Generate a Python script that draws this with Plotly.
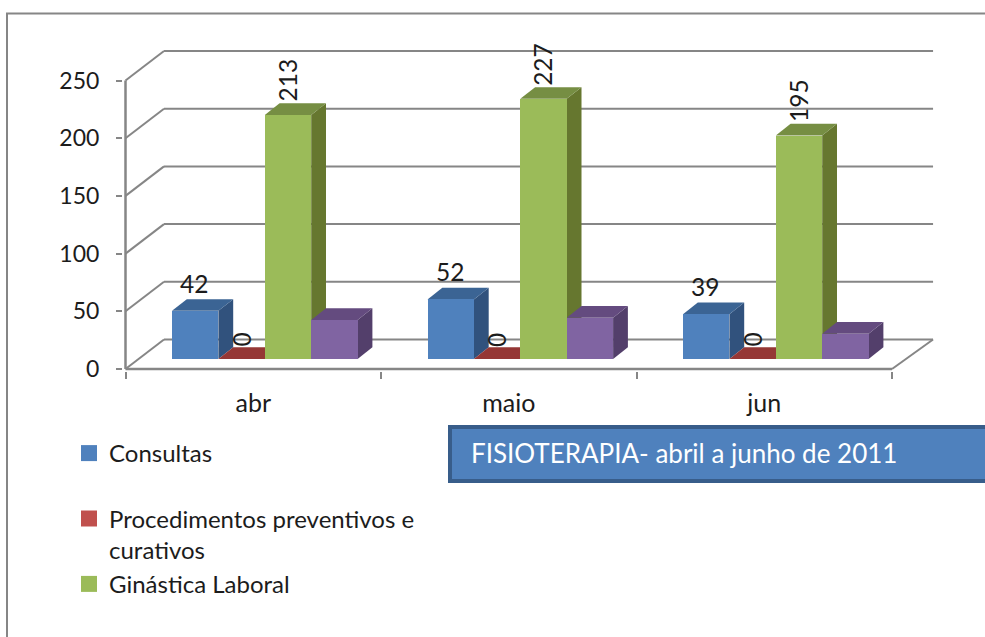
import plotly.graph_objects as go

categories = ["abr", "maio", "jun"]
series_names = ["Consultas", "Procedimentos preventivos e<br>curativos", "Ginástica Laboral", "Outros"]
consultas = [42, 52, 39]
procedimentos = [0, 0, 0]
ginastica = [213, 227, 195]
outros = [34, 36, 22]
y_ticks = [0, 50, 100, 150, 200, 250]

front = ["#4F81BD", "#C0504D", "#9BBB59", "#8064A2"]
side = ["#31527D", "#7F3230", "#66772F", "#533F6B"]
top = ["#3B6494", "#953735", "#768E43", "#644B7F"]
GRID = "#868686"
FONT = "Lato, Carlito, sans-serif"
TXT = "#1c1c1c"

SX, SY = 255.5, 1.154          # px per unit of the front axis, used only to set the axis ranges
BAR_SY = 1.146                 # the bars stand further back, so their scale is a little smaller
FLOOR_PY = 359                 # window row of the bars' foot
WALL_DX, WALL_DY = 38.5 / SX, 29.5 / SY
BAR_DX, BAR_DY = 14.8 / SX, 11.7 / BAR_SY
BAR_W = 46.4 / SX
BAR_START = 46.5 / SX
PL, PR, PT, PB = 123, 936, 49, 371   # plot-area edges in the window
BACK_END = 3.01


def paper_x(px):
    return (px - PL) / (PR - PL)


def paper_y(py):
    return 1 - (py - PT) / (PB - PT)


values = [consultas, procedimentos, ginastica, outros]


def poly(xs, ys):
    d = "M" + " L".join(f"{a:.5f},{b:.4f}" for a, b in zip(xs, ys)) + " Z"
    return d


shapes = []


def line(x0, y0, x1, y1, w=2):
    shapes.append(dict(type="line", xref="x", yref="y", x0=x0, y0=y0, x1=x1, y1=y1,
                       line=dict(color=GRID, width=w), layer="below"))


# wall and floor
for v in y_ticks:
    line(0, v, WALL_DX, v + WALL_DY)
    line(WALL_DX, v + WALL_DY, BACK_END + WALL_DX, v + WALL_DY)
line(0, 0, 0, 250, 2.5)
line(0, 0, 3, 0, 2.5)
line(3, 0, BACK_END + WALL_DX, WALL_DY)

# depth faces of the bars
for c in range(len(categories)):
    for s, vals in enumerate(values):
        l = c + BAR_START + s * BAR_W
        r = l + BAR_W
        b = 0
        t = vals[c]
        shapes.append(dict(type="path", xref="x", yref="y2", layer="below", line=dict(width=0),
                           fillcolor=side[s],
                           path=poly([r, r + BAR_DX, r + BAR_DX, r], [b, b + BAR_DY, t + BAR_DY, t])))
        shapes.append(dict(type="path", xref="x", yref="y2", layer="below", line=dict(width=0),
                           fillcolor=top[s],
                           path=poly([l, r, r + BAR_DX, l + BAR_DX], [t, t, t + BAR_DY, t + BAR_DY])))

# frame and title box
shapes.append(dict(type="rect", xref="paper", yref="paper", x0=paper_x(7), x1=paper_x(1000),
                   y0=paper_y(650), y1=paper_y(13.5), line=dict(color="#868686", width=2), layer="below"))
shapes.append(dict(type="rect", xref="paper", yref="paper", x0=paper_x(450), x1=paper_x(1000),
                   y0=paper_y(481), y1=paper_y(427),
                   fillcolor="#4F81BD", line=dict(color="#385D8A", width=4), layer="above"))

fig = go.Figure()
legend_names = ["Consultas<br> ", series_names[1], series_names[2]]
for s, nm in enumerate(legend_names):
    fig.add_trace(go.Scatter(x=[None], y=[None], mode="markers", name=nm,
                             marker=dict(symbol="square", size=16, color=front[s], line=dict(width=0))))
for s, vals in enumerate(values):
    xs = [c + BAR_START + (s + 0.5) * BAR_W for c in range(len(categories))]
    fig.add_trace(go.Bar(x=xs, y=vals, base=0, width=BAR_W, yaxis="y2",
                         marker=dict(color=front[s], line=dict(width=0)),
                         showlegend=False, name=series_names[s].replace("<br>", " ")))

annotations = []
for s, angle, pad in [(0, 0, 11), (1, -90, 10), (2, -90, 11)]:
    for c in range(len(categories)):
        annotations.append(dict(x=c + BAR_START + (s + 0.5) * BAR_W, y=values[s][c], xref="x", yref="y2",
                                text=str(values[s][c]), showarrow=False, textangle=angle,
                                yanchor="bottom", yshift=pad, xshift=-1,
                                font=dict(family=FONT, size=24.5, color=TXT)))
annotations.append(dict(xref="paper", yref="paper", x=paper_x(469), y=paper_y(453), xanchor="left", yanchor="middle",
                        text="FISIOTERAPIA- abril a junho de 2011", showarrow=False,
                        font=dict(family=FONT, size=26, color="white")))

fig.update_layout(
    width=985, height=637, autosize=False, paper_bgcolor="white", plot_bgcolor="rgba(0,0,0,0)",
    margin=dict(l=PL, r=985 - PR, t=PT, b=637 - PB, pad=0, autoexpand=False),
    barmode="overlay", bargap=0,
    shapes=shapes, annotations=annotations,
    font=dict(family=FONT, size=23, color=TXT),
    xaxis=dict(range=[-2.5 / SX, (PR - 125.5) / SX], tickmode="array",
               tickvals=[c + 0.5 for c in range(3)], ticktext=categories, ticks="",
               ticklabelstandoff=15, tickfont=dict(size=25),
               showgrid=False, zeroline=False, showline=False,
               minor=dict(tickmode="array", tickvals=[0, 1, 2, 3], ticks="outside", ticklen=7,
                          tickwidth=2, tickcolor=GRID, showgrid=False)),
    yaxis=dict(range=[-2 / SY, 320 / SY], tickmode="array", tickvals=y_ticks, ticks="outside",
               ticklen=6, tickwidth=2, tickcolor=GRID, showgrid=False, zeroline=False, showline=False,
               ticklabelstandoff=12),
    yaxis2=dict(overlaying="y", visible=False, showgrid=False, zeroline=False,
                range=[(FLOOR_PY - PB) / BAR_SY, (FLOOR_PY - PT) / BAR_SY]),
    legend=dict(x=paper_x(69), y=paper_y(431), xanchor="left", yanchor="top", valign="top",
                bgcolor="rgba(0,0,0,0)", font=dict(family=FONT, size=24, color=TXT),
                tracegroupgap=0, itemclick=False, itemdoubleclick=False),
)

fig.write_html("out.html", config=dict(displayModeBar=False), post_script="document.body.style.margin='0';")
